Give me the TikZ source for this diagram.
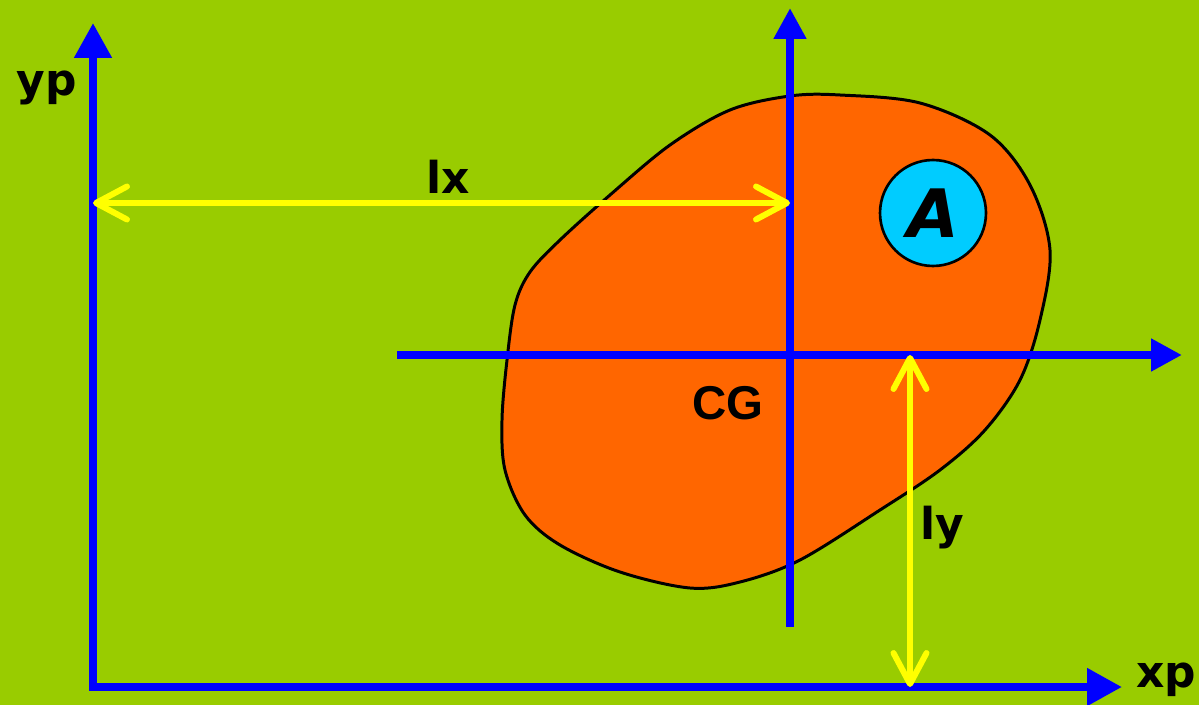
\documentclass[tikz,border=0pt]{standalone}
\usepackage{fontspec}
\setsansfont{DejaVu Sans}
\newfontfamily\cgfont{Liberation Sans}
\usetikzlibrary{arrows.meta}
\definecolor{bgGreen}{HTML}{99CC00}
\definecolor{blobOrange}{HTML}{FF6600}
\definecolor{axisBlue}{HTML}{0000FF}
\definecolor{dimYellow}{HTML}{FFFF00}
\definecolor{areaCyan}{HTML}{00CCFF}

\begin{document}
\begin{tikzpicture}[
    x=0.02cm, y=-0.02cm,
    axis/.style={line width=4.5pt, draw=axisBlue, {Triangle[length=0.7cm, width=0.72cm]}-{Triangle[length=0.7cm, width=0.72cm]}},
    cgaxis/.style={line width=4.5pt, draw=axisBlue, -{Triangle[length=0.62cm, width=0.62cm]}},
    dim/.style={line width=3.4pt, draw=dimYellow, {Straight Barb[length=0.62cm, width=0.66cm, round]}-{Straight Barb[length=0.62cm, width=0.66cm, round]}},
    label/.style={font=\sffamily\bfseries\fontsize{25}{30}\selectfont, text=black, inner sep=0pt},
    blob/.style={draw=black, line width=1.7pt, fill=blobOrange},
    area/.style={circle, draw=black, line width=1.5pt, fill=areaCyan, minimum size=2.12cm, inner sep=0pt}
  ]
  % background
  \fill[bgGreen] (0,0) rectangle (1199,705);
  \useasboundingbox (0,0) rectangle (1199,705);

  % section
  \draw[blob] plot[smooth cycle, tension=0.55] coordinates {
    (790,96) (840,95) (920,103) (990,135) (1030,185) (1050,250) (1040,320)
    (1020,380) (985,430) (940,470) (880,510) (800,560) (740,582) (690,588)
    (620,572) (560,545) (525,515) (505,470) (502,420) (507,360) (515,305)
    (530,272) (560,240) (610,195) (670,145) (730,110)};
  \node[area, font=\sffamily\bfseries\itshape\fontsize{38}{40}\selectfont] (A) at (933,213) {A};

  % axes
  \coordinate (O) at (93,687);
  \coordinate (ypTip) at (93,23);
  \coordinate (xpTip) at (1122,687);
  \coordinate (cgTop) at (790,8);
  \coordinate (cgBot) at (790,627);
  \coordinate (cgLeft) at (397,355);
  \coordinate (cgRight) at (1182,355);
  \draw[axis] (ypTip) -- (O) -- (xpTip);
  \draw[cgaxis] (cgBot) -- (cgTop);
  \draw[cgaxis] (cgLeft) -- (cgRight);

  % distances
  \coordinate (lxL) at (93,203);
  \coordinate (lxR) at (790,203);
  \coordinate (lyT) at (910,355);
  \coordinate (lyB) at (910,687);
  \draw[dim] (lxL) -- (lxR);
  \draw[dim] (lyT) -- (lyB);

  % labels
  \node[label] (yp) at (47,88) {yp};
  \node[label] (xp) at (1166,680) {xp};
  \node[label] (lx) at (448,177) {lx};
  \node[label] (ly) at (942,528) {ly};
  \node[label, font=\cgfont\bfseries\fontsize{27}{30}\selectfont] (cg) at (728,403) {CG};
\end{tikzpicture}
\end{document}
